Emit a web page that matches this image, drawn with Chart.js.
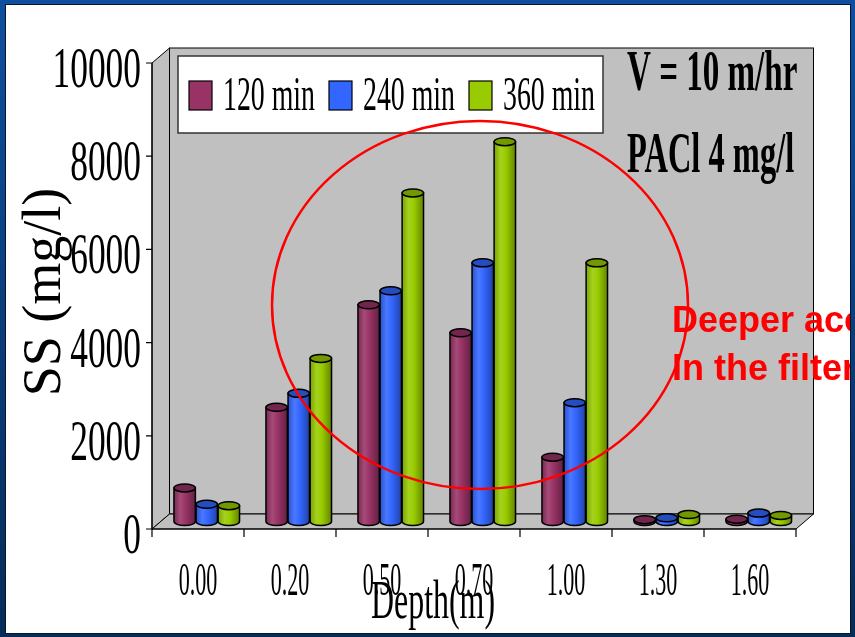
<!DOCTYPE html>
<html>
<head>
<meta charset="utf-8">
<script src="https://cdn.jsdelivr.net/npm/chart.js@4.4.1/dist/chart.umd.min.js"></script>
<style>
html, body { margin: 0; padding: 0; width: 855px; height: 637px; overflow: hidden; }
body { background: linear-gradient(#0e509f, #062c58); }
#panel { position: absolute; left: 6px; top: 5px; width: 844px; height: 628px; background: #fff; overflow: hidden; box-shadow: 0 0 0 1px #08152b; }
#wrap { position: absolute; left: -6px; top: -5px; width: 855px; height: 637px; }
</style>
</head>
<body>
<div id="panel"><div id="wrap"><canvas id="chart" width="855" height="637"></canvas></div></div>
<script>
// SS vs depth, 3 sampling times
var depths = ['0.00', '0.20', '0.50', '0.70', '1.00', '1.30', '1.60'];
var ss120 = [720, 2450, 4650, 4050, 1380, 40, 50];
var ss240 = [370, 2750, 4950, 5550, 2550, 80, 180];
var ss360 = [340, 3500, 7050, 8150, 5550, 150, 130];
var yTicks = [0, 2000, 4000, 6000, 8000, 10000];

var SERIF = '"Liberation Serif", "Times New Roman", serif';
var DX = 17.5, DY = -15;   // depth of the 3d box

function shade(hex, k) {
    var n = parseInt(hex.slice(1), 16);
    var c = [(n >> 16) & 255, (n >> 8) & 255, n & 255].map(function(v) {
        return Math.round(k < 0 ? v * (1 + k) : v + (255 - v) * k);
    });
    return 'rgb(' + c.join(',') + ')';
}

// horizontally squeezed text
function squeeze(ctx, text, x, y, font, sx, align, color) {
    ctx.save();
    ctx.translate(x, y);
    ctx.scale(sx, 1);
    ctx.font = font;
    ctx.textAlign = align || 'left';
    ctx.textBaseline = 'alphabetic';
    ctx.fillStyle = color || '#000';
    ctx.fillText(text, 0, 0);
    ctx.restore();
}

function cylinder(ctx, x, top, base, w, color) {
    var rx = w / 2, ry = 4, l = x - rx, r = x + rx;
    var g = ctx.createLinearGradient(l, 0, r, 0);
    g.addColorStop(0, shade(color, -0.2));
    g.addColorStop(0.3, shade(color, 0.12));
    g.addColorStop(0.55, color);
    g.addColorStop(1, shade(color, -0.35));
    ctx.beginPath();
    ctx.moveTo(l, top);
    ctx.lineTo(l, base);
    ctx.ellipse(x, base, rx, ry, 0, Math.PI, 0, true);
    ctx.lineTo(r, top);
    ctx.closePath();
    ctx.fillStyle = g;
    ctx.fill();
    ctx.lineWidth = 1.5;
    ctx.strokeStyle = '#000';
    ctx.stroke();
    ctx.beginPath();
    ctx.ellipse(x, top, rx, ry, 0, 0, Math.PI * 2);
    ctx.fillStyle = shade(color, -0.25);
    ctx.fill();
    ctx.stroke();
}

var excel3d = {
    id: 'excel3d',
    beforeDatasetsDraw: function(chart) {
        var ctx = chart.ctx, ca = chart.chartArea;
        var L = ca.left, R = ca.right, T = ca.top, B = ca.bottom;
        var xs = chart.scales.x, ys = chart.scales.y;
        ctx.save();
        ctx.lineWidth = 1;
        ctx.strokeStyle = '#000';
        ctx.fillStyle = '#c0c0c0';
        // back wall
        ctx.fillRect(L + DX, T + DY, R - L, B - T);
        ctx.strokeRect(L + DX, T + DY, R - L, B - T);
        // side wall
        ctx.beginPath();
        ctx.moveTo(L, T); ctx.lineTo(L + DX, T + DY); ctx.lineTo(L + DX, B + DY); ctx.lineTo(L, B);
        ctx.closePath(); ctx.fill(); ctx.stroke();
        // floor
        ctx.beginPath();
        ctx.moveTo(L, B); ctx.lineTo(L + DX, B + DY); ctx.lineTo(R + DX, B + DY); ctx.lineTo(R, B);
        ctx.closePath(); ctx.fill(); ctx.stroke();

        // axes
        ctx.lineWidth = 1.2;
        ctx.beginPath();
        ctx.moveTo(L, T); ctx.lineTo(L, B); ctx.lineTo(R, B);
        yTicks.forEach(function(v) {
            var py = ys.getPixelForValue(v);
            ctx.moveTo(L - 6, py); ctx.lineTo(L, py);
        });
        var n = depths.length;
        for (var i = 0; i <= n; i++) {
            var px = i === 0 ? L : i === n ? R : (xs.getPixelForValue(i - 1) + xs.getPixelForValue(i)) / 2;
            ctx.moveTo(px, B); ctx.lineTo(px, B + 8);
        }
        ctx.stroke();

        yTicks.forEach(function(v) {
            squeeze(ctx, String(v), L - 11, ys.getPixelForValue(v) + 24, '58px ' + SERIF, 0.61, 'right');
        });
        depths.forEach(function(d, i) {
            squeeze(ctx, d, xs.getPixelForValue(i), B + 66, '46px ' + SERIF, 0.48, 'center');
        });

        // bars
        chart.data.datasets.forEach(function(ds, di) {
            chart.getDatasetMeta(di).data.forEach(function(el) {
                cylinder(ctx, el.x + DX / 2, el.y + DY / 2, el.base + DY / 2, el.width, ds.backgroundColor);
            });
        });
        ctx.restore();
        return false;
    },
    afterDraw: function(chart) {
        var ctx = chart.ctx;
        ctx.save();
        // axis titles
        squeeze(ctx, 'Depth(m)', 433, 618, '55px ' + SERIF, 0.58, 'center');
        ctx.save();
        ctx.translate(60, 292);
        ctx.rotate(-Math.PI / 2);
        squeeze(ctx, 'SS (mg/l)', 0, 0, '54px ' + SERIF, 1.0, 'center');
        ctx.restore();

        // legend
        ctx.fillStyle = '#fff';
        ctx.fillRect(178, 56, 425, 77);
        ctx.lineWidth = 1.5;
        ctx.strokeStyle = '#333';
        ctx.strokeRect(178, 56, 425, 77);
        chart.data.datasets.forEach(function(ds, i) {
            var x0 = 189 + i * 140;
            ctx.fillStyle = ds.backgroundColor;
            ctx.fillRect(x0, 81, 23, 29);
            ctx.lineWidth = 1.2;
            ctx.strokeStyle = '#000';
            ctx.strokeRect(x0, 81, 23, 29);
            squeeze(ctx, ds.label, x0 + 34, 110, '48px ' + SERIF, 0.58, 'left');
        });

        // conditions
        squeeze(ctx, 'V = 10 m/hr', 627, 90, 'bold 58px ' + SERIF, 0.57, 'left');
        squeeze(ctx, 'PACl 4 mg/l', 627, 172, 'bold 58px ' + SERIF, 0.56, 'left');

        // highlight circle
        ctx.beginPath();
        ctx.ellipse(480, 305, 208, 184, 0, 0, Math.PI * 2);
        ctx.lineWidth = 2.5;
        ctx.strokeStyle = '#ff0000';
        ctx.stroke();

        ctx.font = 'bold 36px "Liberation Sans", Arial, sans-serif';
        ctx.fillStyle = '#ff0000';
        ctx.textAlign = 'left';
        ctx.fillText('Deeper accumulation', 672, 332);
        ctx.fillText('In the filter', 672, 380);
        ctx.restore();
    }
};

new Chart(document.getElementById('chart'), {
    type: 'bar',
    data: {
        labels: depths,
        datasets: [
            { label: '120 min', data: ss120, backgroundColor: '#993366' },
            { label: '240 min', data: ss240, backgroundColor: '#3366ff' },
            { label: '360 min', data: ss360, backgroundColor: '#99cc00' }
        ]
    },
    options: {
        responsive: false,
        animation: false,
        layout: { padding: { left: 152, right: 59, top: 63, bottom: 108 } },
        datasets: { bar: { categoryPercentage: 0.72, barPercentage: 0.97 } },
        plugins: { legend: { display: false }, tooltip: { enabled: false } },
        scales: {
            x: { display: false },
            y: { display: false, min: 0, max: 10000 }
        }
    },
    plugins: [excel3d]
});
</script>
</body>
</html>
